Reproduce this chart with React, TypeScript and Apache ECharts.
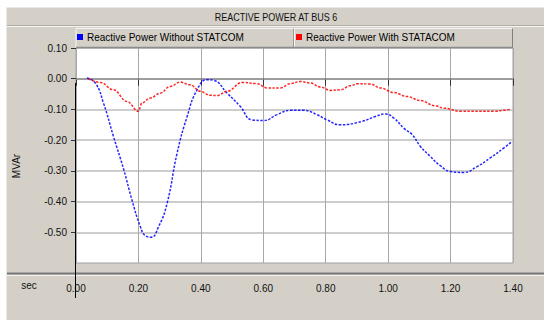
import React, { useEffect, useRef } from "react";
import * as echarts from "echarts";

const titleText = "REACTIVE POWER AT BUS 6";
const seriesNames = ["Reactive Power Without STATCOM", "Reactive Power With STATACOM"];
const seriesColors = ["#0000ff", "#ff0000"];
const xTicks = [0, 0.2, 0.4, 0.6, 0.8, 1.0, 1.2, 1.4];
const yTicks = [0.1, 0, -0.1, -0.2, -0.3, -0.4, -0.5];

const blueT = [0.035, 0.062, 0.088, 0.12, 0.153, 0.179, 0.206, 0.222, 0.24, 0.265, 0.292, 0.324, 0.356, 0.388, 0.42, 0.441, 0.484, 0.526, 0.564, 0.601, 0.644, 0.687, 0.729, 0.772, 0.804, 0.847, 0.916, 0.959, 0.991, 1.018, 1.05, 1.077, 1.103, 1.135, 1.167, 1.2, 1.242, 1.285, 1.327, 1.37, 1.397];
const blueV = [0.002, -0.014, -0.079, -0.188, -0.296, -0.394, -0.481, -0.511, -0.516, -0.481, -0.405, -0.242, -0.123, -0.036, -0.003, -0.005, -0.047, -0.09, -0.134, -0.136, -0.117, -0.103, -0.103, -0.117, -0.134, -0.15, -0.139, -0.123, -0.115, -0.128, -0.161, -0.182, -0.22, -0.253, -0.283, -0.302, -0.305, -0.286, -0.258, -0.226, -0.204];

const redT = [0.04, 0.078, 0.12, 0.163, 0.2, 0.211, 0.238, 0.27, 0.302, 0.334, 0.366, 0.398, 0.43, 0.452, 0.484, 0.532, 0.58, 0.612, 0.655, 0.687, 0.719, 0.751, 0.783, 0.815, 0.847, 0.879, 0.902, 0.943, 0.975, 1.018, 1.061, 1.103, 1.151, 1.178, 1.231, 1.343, 1.37, 1.392];
const redV = [0, -0.012, -0.036, -0.074, -0.106, -0.079, -0.063, -0.047, -0.025, -0.011, -0.02, -0.041, -0.054, -0.055, -0.041, -0.012, -0.016, -0.03, -0.03, -0.016, -0.009, -0.014, -0.027, -0.038, -0.036, -0.023, -0.016, -0.017, -0.03, -0.045, -0.058, -0.071, -0.088, -0.096, -0.106, -0.106, -0.103, -0.099];

const FONT = "'Liberation Sans', Arial, sans-serif";

export default function App() {
  const ref = useRef<HTMLDivElement>(null);
  useEffect(() => {
    document.body.style.margin = "0";
    const chart = echarts.init(ref.current!, null, { renderer: "svg" });
    const pairs = (t: number[], v: number[]) => t.map((x, i) => [x, v[i]]);
    const lineSeries = (idx: number, data: number[][], extra: any = {}) => ({
      name: seriesNames[idx],
      type: "line",
      data,
      smooth: 0.4,
      smoothMonotone: "x",
      showSymbol: false,
      itemStyle: { color: seriesColors[idx] },
      lineStyle: { color: seriesColors[idx], width: 1.5, type: [2.5, 1.5], opacity: 0.85 },
      z: 3,
      ...extra,
    });
    const gline = (x1: number, y1: number, x2: number, y2: number, stroke: string, lineWidth = 1) => ({
      type: "line",
      silent: true,
      shape: { x1, y1, x2, y2 },
      style: { stroke, lineWidth },
      z: 10,
    });
    const option: any = {
      animation: false,
      backgroundColor: "#d4d0c8",
      textStyle: { fontFamily: FONT },
      grid: {
        left: 76,
        right: 31,
        top: 48,
        bottom: 57,
        show: true,
        backgroundColor: "#ffffff",
        borderColor: "#a0a0a0",
        borderWidth: 1,
      },
      legend: [0, 1].map((i) => ({
        data: [seriesNames[i]],
        left: i === 0 ? 77 : 296,
        top: 32,
        padding: 0,
        icon: "rect",
        itemWidth: 6,
        itemHeight: 6,
        itemStyle: { borderWidth: 0 },
        textStyle: { fontSize: 10, color: "#000", fontFamily: FONT, padding: [0, 0, 0, -1] },
      })),
      xAxis: {
        type: "value",
        min: 0,
        max: 1.4,
        interval: 0.2,
        offset: 11,
        axisLine: { show: false },
        axisTick: { show: true, length: 7, lineStyle: { color: "#333" } },
        axisLabel: {
          margin: 9,
          fontSize: 10,
          color: "#111",
          fontFamily: FONT,
          customValues: xTicks,
          formatter: (v: number) => v.toFixed(2),
        },
        splitLine: { show: true, lineStyle: { color: "#a8a8a8", width: 1 } },
      },
      yAxis: {
        type: "value",
        min: -0.6,
        max: 0.1,
        interval: 0.1,
        axisLine: { show: false },
        axisTick: { show: true, length: 5, customValues: yTicks, lineStyle: { color: "#333" } },
        axisLabel: {
          margin: 9,
          fontSize: 10,
          color: "#111",
          fontFamily: FONT,
          customValues: yTicks,
          formatter: (v: number) => v.toFixed(2),
        },
        splitLine: { show: true, lineStyle: { color: "#bcbcbc", width: 1.5 } },
      },
      series: [
        lineSeries(0, pairs(blueT, blueV), {
          smooth: 0.5,
          smoothMonotone: undefined,
          markLine: {
            silent: true,
            symbol: "none",
            label: { show: false },
            lineStyle: { color: "#8c8c8c", width: 1.5, type: "solid" },
            data: [{ yAxis: 0 }],
            z: 1,
          },
        }),
        lineSeries(1, pairs(redT, redV)),
      ],
      graphic: [
        { type: "rect", silent: true, shape: { x: 0, y: 0, width: 544, height: 7.5 }, style: { fill: "#ffffff" }, z: 10 },
        { type: "rect", silent: true, shape: { x: 0, y: 0, width: 6.5, height: 320 }, style: { fill: "#ffffff" }, z: 10 },
        gline(7, 25.5, 544, 25.5, "#b0aca4"),
        gline(7, 26.5, 544, 26.5, "#f4f4f4"),
        gline(76, 28.5, 513, 28.5, "#f4f4f4"),
        gline(76, 28.5, 76, 48, "#f4f4f4"),
        gline(512.5, 28.5, 512.5, 48, "#808080"),
        gline(293.5, 28.5, 293.5, 48, "#9a9a9a"),
        gline(294.5, 28.5, 294.5, 48, "#f4f4f4"),
        gline(76, 47.5, 513, 47.5, "#8c8c8c", 1.5),
        gline(7, 273.5, 544, 273.5, "#7a7a7a", 2),
        gline(7, 275.5, 544, 275.5, "#f4f4f4", 1),
        gline(75.5, 83, 75.5, 298, "#000000", 1),
        {
          type: "text",
          silent: true,
          x: 276,
          y: 17,
          scaleX: 0.9,
          style: {
            text: titleText,
            fontSize: 10,
            fontFamily: FONT,
            fill: "#111",
            textAlign: "center",
            verticalAlign: "middle",
          },
          z: 11,
        },
        {
          type: "text",
          silent: true,
          x: 16,
          y: 166,
          rotation: Math.PI / 2,
          style: {
            text: "MVAr",
            fontSize: 10,
            fontFamily: FONT,
            fill: "#111",
            textAlign: "center",
            verticalAlign: "middle",
          },
          z: 11,
        },
        {
          type: "text",
          silent: true,
          x: 29,
          y: 285,
          style: {
            text: "sec",
            fontSize: 10,
            fontFamily: FONT,
            fill: "#111",
            textAlign: "center",
            verticalAlign: "middle",
          },
          z: 11,
        },
      ],
    };
    chart.setOption(option);
    return () => chart.dispose();
  }, []);
  return <div ref={ref} style={{ width: 544, height: 320 }} />;
}
